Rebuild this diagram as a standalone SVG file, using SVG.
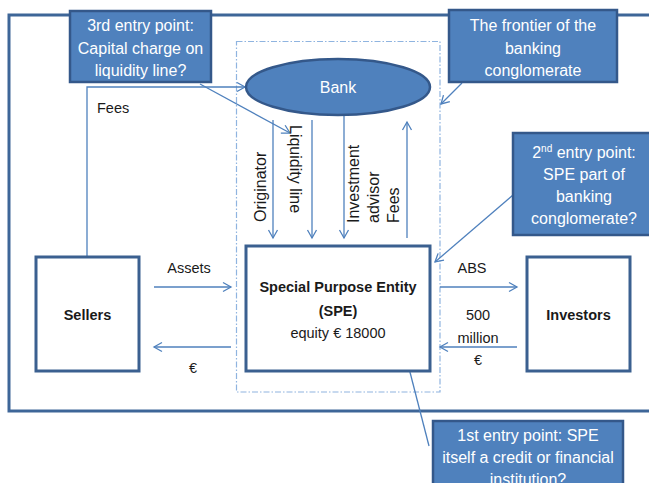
<svg xmlns="http://www.w3.org/2000/svg" width="649" height="483" viewBox="0 0 649 483">
  <defs>
    <style>
      .frame { fill: none; stroke: #3e6698; stroke-width: 3; }
      .zone { fill: none; stroke: #8fb4e0; stroke-width: 1.2; stroke-dasharray: 6 2 1.5 2; }
      .box { fill: #ffffff; stroke: #3b6090; stroke-width: 3; }
      .note { fill: #4f81bd; stroke: #34588a; stroke-width: 2.5; }
      .link { fill: none; stroke: #4f81bd; stroke-width: 1.3; }
      .txt { font-family: "Liberation Sans", Arial, sans-serif; font-size: 14.5px; fill: #1a1a1a; }
      .bold { font-weight: bold; }
      .ntxt { font-family: "Liberation Sans", Arial, sans-serif; font-size: 16px; fill: #ffffff; text-anchor: middle; }
      .rot { font-family: "Liberation Sans", Arial, sans-serif; font-size: 16px; fill: #1a1a1a; }
      .mid { text-anchor: middle; }
    </style>
    <marker id="arrow" markerUnits="userSpaceOnUse" markerWidth="12" markerHeight="12" viewBox="0 0 12 12" refX="10" refY="6" orient="auto">
      <path d="M2,1.5 L10,6 L2,10.5" fill="none" stroke="#4f81bd" stroke-width="1.3"/>
    </marker>
  </defs>

  <!-- outer boundary of the scheme -->
  <rect class="frame" x="9" y="15" width="700" height="396"/>

  <!-- banking conglomerate frontier (dash-dot) -->
  <rect class="zone" x="236.5" y="41.5" width="203.5" height="350.5"/>

  <!-- connectors -->
  <g id="connectors">
    <!-- fees from sellers to bank -->
    <polyline class="link" points="87,257 87,87 245,87" marker-end="url(#arrow)"/>
    <!-- bank to SPE -->
    <line class="link" x1="273" y1="120" x2="273" y2="238" marker-end="url(#arrow)"/>
    <line class="link" x1="312" y1="120" x2="312" y2="238" marker-end="url(#arrow)"/>
    <line class="link" x1="344" y1="116" x2="344" y2="238" marker-end="url(#arrow)"/>
    <line class="link" x1="407" y1="238" x2="407" y2="122" marker-end="url(#arrow)"/>
    <!-- sellers / SPE -->
    <line class="link" x1="154" y1="287" x2="231" y2="287" marker-end="url(#arrow)"/>
    <line class="link" x1="231" y1="347" x2="154" y2="347" marker-end="url(#arrow)"/>
    <!-- SPE / investors -->
    <line class="link" x1="440" y1="287" x2="517" y2="287" marker-end="url(#arrow)"/>
    <line class="link" x1="517" y1="347" x2="440" y2="347" marker-end="url(#arrow)"/>
    <!-- callout pointers -->
    <line class="link" x1="200" y1="84" x2="290" y2="133" marker-end="url(#arrow)"/>
    <line class="link" x1="462" y1="83" x2="441" y2="104" marker-end="url(#arrow)"/>
    <line class="link" x1="513" y1="195" x2="435" y2="262" marker-end="url(#arrow)"/>
    <line class="link" x1="429" y1="446" x2="403" y2="345" marker-end="url(#arrow)"/>
  </g>

  <!-- connector labels -->
  <g id="labels">
    <text class="txt" x="97" y="113">Fees</text>
    <text class="rot" transform="translate(266,222) rotate(-90)">Originator</text>
    <text class="rot" transform="translate(290,125) rotate(90)">Liquidity line</text>
    <text class="rot" transform="translate(359,223) rotate(-90)">Investment</text>
    <text class="rot" transform="translate(379,223) rotate(-90)">advisor</text>
    <text class="rot" transform="translate(399,223) rotate(-90)">Fees</text>
    <text class="txt mid" x="189" y="273">Assets</text>
    <text class="txt mid" x="193" y="373">€</text>
    <text class="txt mid" x="472" y="273">ABS</text>
    <text class="txt mid" x="478" y="320">500</text>
    <text class="txt mid" x="478" y="343">million</text>
    <text class="txt mid" x="478" y="365">€</text>
  </g>

  <!-- Bank -->
  <g id="bank">
    <ellipse class="note" cx="338" cy="87" rx="92" ry="28"/>
    <text class="ntxt" x="338" y="93">Bank</text>
  </g>

  <!-- Sellers -->
  <g id="sellers">
    <rect class="box" x="36" y="257" width="103" height="114"/>
    <text class="txt bold mid" x="87.5" y="320">Sellers</text>
  </g>

  <!-- Special Purpose Entity -->
  <g id="spe">
    <rect class="box" x="246" y="246" width="184" height="125"/>
    <text class="txt bold mid" x="338" y="292">Special Purpose Entity</text>
    <text class="txt bold mid" x="338" y="316">(SPE)</text>
    <text class="txt mid" x="338" y="338">equity € 18000</text>
  </g>

  <!-- Investors -->
  <g id="investors">
    <rect class="box" x="527" y="257" width="103" height="114"/>
    <text class="txt bold mid" x="578.5" y="320">Investors</text>
  </g>

  <!-- callouts -->
  <g id="entry3">
    <rect class="note" x="70" y="11" width="141" height="71"/>
    <text class="ntxt" x="140.5" y="31">3rd entry point:</text>
    <text class="ntxt" x="140.5" y="54">Capital charge on</text>
    <text class="ntxt" x="140.5" y="76">liquidity line?</text>
  </g>

  <g id="frontier">
    <rect class="note" x="449" y="10" width="168" height="72"/>
    <text class="ntxt" x="533" y="31">The frontier of the</text>
    <text class="ntxt" x="533" y="54">banking</text>
    <text class="ntxt" x="533" y="76">conglomerate</text>
  </g>

  <g id="entry2">
    <rect class="note" x="513" y="133" width="142" height="102"/>
    <text class="ntxt" x="584" y="158">2<tspan font-size="10px" dy="-6">nd</tspan><tspan dy="6"> entry point:</tspan></text>
    <text class="ntxt" x="584" y="180">SPE part of</text>
    <text class="ntxt" x="584" y="202">banking</text>
    <text class="ntxt" x="584" y="224">conglomerate?</text>
  </g>

  <g id="entry1">
    <rect class="note" x="433" y="421" width="190" height="80"/>
    <text class="ntxt" x="528" y="441">1st entry point: SPE</text>
    <text class="ntxt" x="528" y="463">itself a credit or financial</text>
    <text class="ntxt" x="528" y="485">institution?</text>
  </g>
</svg>
